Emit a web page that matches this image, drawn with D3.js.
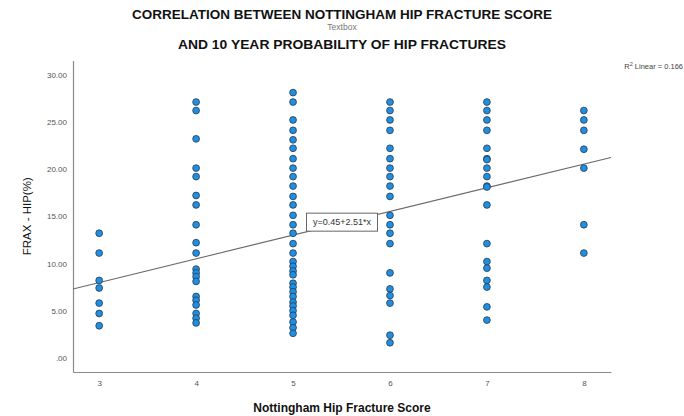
<!DOCTYPE html>
<html>
<head>
<meta charset="utf-8">
<script src="https://cdn.jsdelivr.net/npm/d3@7"></script>
<style>
  html, body { margin: 0; padding: 0; background: #fff; }
  svg { display: block; font-family: "Liberation Sans", Arial, sans-serif; }
</style>
</head>
<body>
<svg id="chart" width="684" height="416"></svg>
<script>
// ---- data ----
const scoreCategories = [3, 4, 5, 6, 7, 8];
const fraxScore3 = [13.2, 11.1, 8.2, 7.4, 5.8, 4.7, 3.4];
const fraxScore4 = [27.1, 26.2, 23.2, 20.1, 19.2, 17.2, 16.2, 14.1, 12.2, 11.1, 9.4, 9.0, 8.6, 8.1, 6.5, 6.1, 5.6, 4.7, 4.2, 3.7];
const fraxScore5 = [28.1, 27.1, 25.2, 24.1, 23.1, 22.2, 21.1, 20.1, 19.2, 18.2, 17.1, 16.2, 15.1, 14.1, 13.2, 12.1, 11.1, 10.2, 9.7, 9.2, 8.8, 7.9, 7.5, 7.0, 6.5, 5.9, 5.5, 5.0, 4.5, 3.8, 3.2, 2.6];
const fraxScore6 = [27.1, 26.2, 25.2, 24.1, 22.2, 21.1, 20.1, 19.2, 18.2, 17.1, 15.1, 14.1, 13.2, 12.1, 9.0, 7.3, 6.6, 5.8, 2.4, 1.6];
const fraxScore7 = [27.1, 26.2, 25.2, 24.1, 22.2, 21.1, 21.0, 20.1, 19.2, 18.2, 18.1, 16.2, 12.1, 10.2, 9.5, 8.2, 7.5, 5.4, 4.0];
const fraxScore8 = [26.2, 25.2, 24.1, 22.1, 20.1, 14.1, 11.1];
const yTickValues = [0, 5, 10, 15, 20, 25, 30];
const yTickLabels = [".00", "5.00", "10.00", "15.00", "20.00", "25.00", "30.00"];
const fitIntercept = 0.45;
const fitSlope = 2.51;
const rSquared = "0.166";
const titleLines = ["CORRELATION BETWEEN NOTTINGHAM HIP FRACTURE SCORE", "AND 10 YEAR PROBABILITY OF HIP FRACTURES"];
const subLabel = "Textbox";
const xAxisTitle = "Nottingham Hip Fracture Score";
const yAxisTitle = "FRAX - HIP(%)";

const columns = [fraxScore3, fraxScore4, fraxScore5, fraxScore6, fraxScore7, fraxScore8];
const points = [];
columns.forEach((vals, i) => vals.forEach(v => points.push({ score: scoreCategories[i], frax: v })));

// ---- layout ----
const svg = d3.select("#chart");
const plot = { left: 73, right: 611, top: 60.5, bottom: 372 };

const x = d3.scaleLinear().domain([2.73, 8.28]).range([plot.left, plot.right]);
const y = d3.scaleLinear().domain([-1.5, 31.5]).range([plot.bottom, plot.top]);

const axisColor = "#8a8a8a";
const tickColor = "#555";

// Axes
const yAxis = d3.axisLeft(y).tickValues(yTickValues)
  .tickFormat((d, i) => yTickLabels[i]).tickSize(0).tickPadding(6);
const gy = svg.append("g").attr("transform", `translate(${plot.left},0)`).call(yAxis);
gy.select(".domain").attr("stroke", axisColor).attr("stroke-width", 1.2);
gy.selectAll("text").attr("fill", tickColor).attr("font-size", 8)
  .attr("font-family", "Liberation Sans, Arial, sans-serif");

const xAxis = d3.axisBottom(x).tickValues(scoreCategories).tickFormat(d3.format("d"))
  .tickSize(0).tickPadding(8);
const gx = svg.append("g").attr("transform", `translate(0,${plot.bottom})`).call(xAxis);
gx.select(".domain").attr("stroke", axisColor).attr("stroke-width", 1.2);
gx.selectAll("text").attr("fill", tickColor).attr("font-size", 8)
  .attr("font-family", "Liberation Sans, Arial, sans-serif");

// Regression line
const xd = x.domain();
svg.append("line")
  .attr("x1", x(xd[0])).attr("y1", y(fitIntercept + fitSlope * xd[0]))
  .attr("x2", x(xd[1])).attr("y2", y(fitIntercept + fitSlope * xd[1]))
  .attr("stroke", "#6b6b6b").attr("stroke-width", 1.1);

// Points
svg.append("g").selectAll("circle").data(points).join("circle")
  .attr("cx", d => x(d.score)).attr("cy", d => y(d.frax)).attr("r", 3.4)
  .attr("fill", "#1f8fe3").attr("stroke", "#2a3a4a").attr("stroke-width", 0.8);

// Equation box, centred on the fit line at mid x
const midX = (xd[0] + xd[1]) / 2;
const eqG = svg.append("g").attr("transform", `translate(${x(midX)},${y(fitIntercept + fitSlope * midX) - 1})`);
const eqText = `y=${fitIntercept}+${fitSlope}*x`;
eqG.append("rect").attr("x", -35.5).attr("y", -9).attr("width", 71).attr("height", 18)
  .attr("fill", "#fff").attr("stroke", "#666").attr("stroke-width", 1);
eqG.append("text").attr("text-anchor", "middle").attr("dy", "0.35em")
  .attr("font-size", 9).attr("fill", "#333").text(eqText);

// R squared label
const r2 = svg.append("text").attr("x", 683).attr("y", 69).attr("text-anchor", "end")
  .attr("font-size", 7.5).attr("fill", "#444");
r2.append("tspan").text("R");
r2.append("tspan").attr("font-size", 5.5).attr("dy", -3).text("2");
r2.append("tspan").attr("dy", 3).text(` Linear = ${rSquared}`);

// Titles
const cx = (plot.left + plot.right) / 2;
svg.append("text").attr("x", cx).attr("y", 19).attr("text-anchor", "middle")
  .attr("font-size", 12).attr("font-weight", "bold").attr("fill", "#111")
  .attr("textLength", 420).attr("lengthAdjust", "spacingAndGlyphs").text(titleLines[0]);
svg.append("text").attr("x", cx).attr("y", 30).attr("text-anchor", "middle")
  .attr("font-size", 8.5).attr("fill", "#777").text(subLabel);
svg.append("text").attr("x", cx).attr("y", 49).attr("text-anchor", "middle")
  .attr("font-size", 12).attr("font-weight", "bold").attr("fill", "#111")
  .attr("textLength", 328).attr("lengthAdjust", "spacingAndGlyphs").text(titleLines[1]);

// Axis titles
svg.append("text").attr("x", cx).attr("y", 412).attr("text-anchor", "middle")
  .attr("font-size", 12).attr("font-weight", "bold").attr("fill", "#111").text(xAxisTitle);
svg.append("text").attr("transform", `translate(31,${(plot.top + plot.bottom) / 2}) rotate(-90)`)
  .attr("text-anchor", "middle").attr("font-size", 11.5).attr("fill", "#111").text(yAxisTitle);
</script>
</body>
</html>
